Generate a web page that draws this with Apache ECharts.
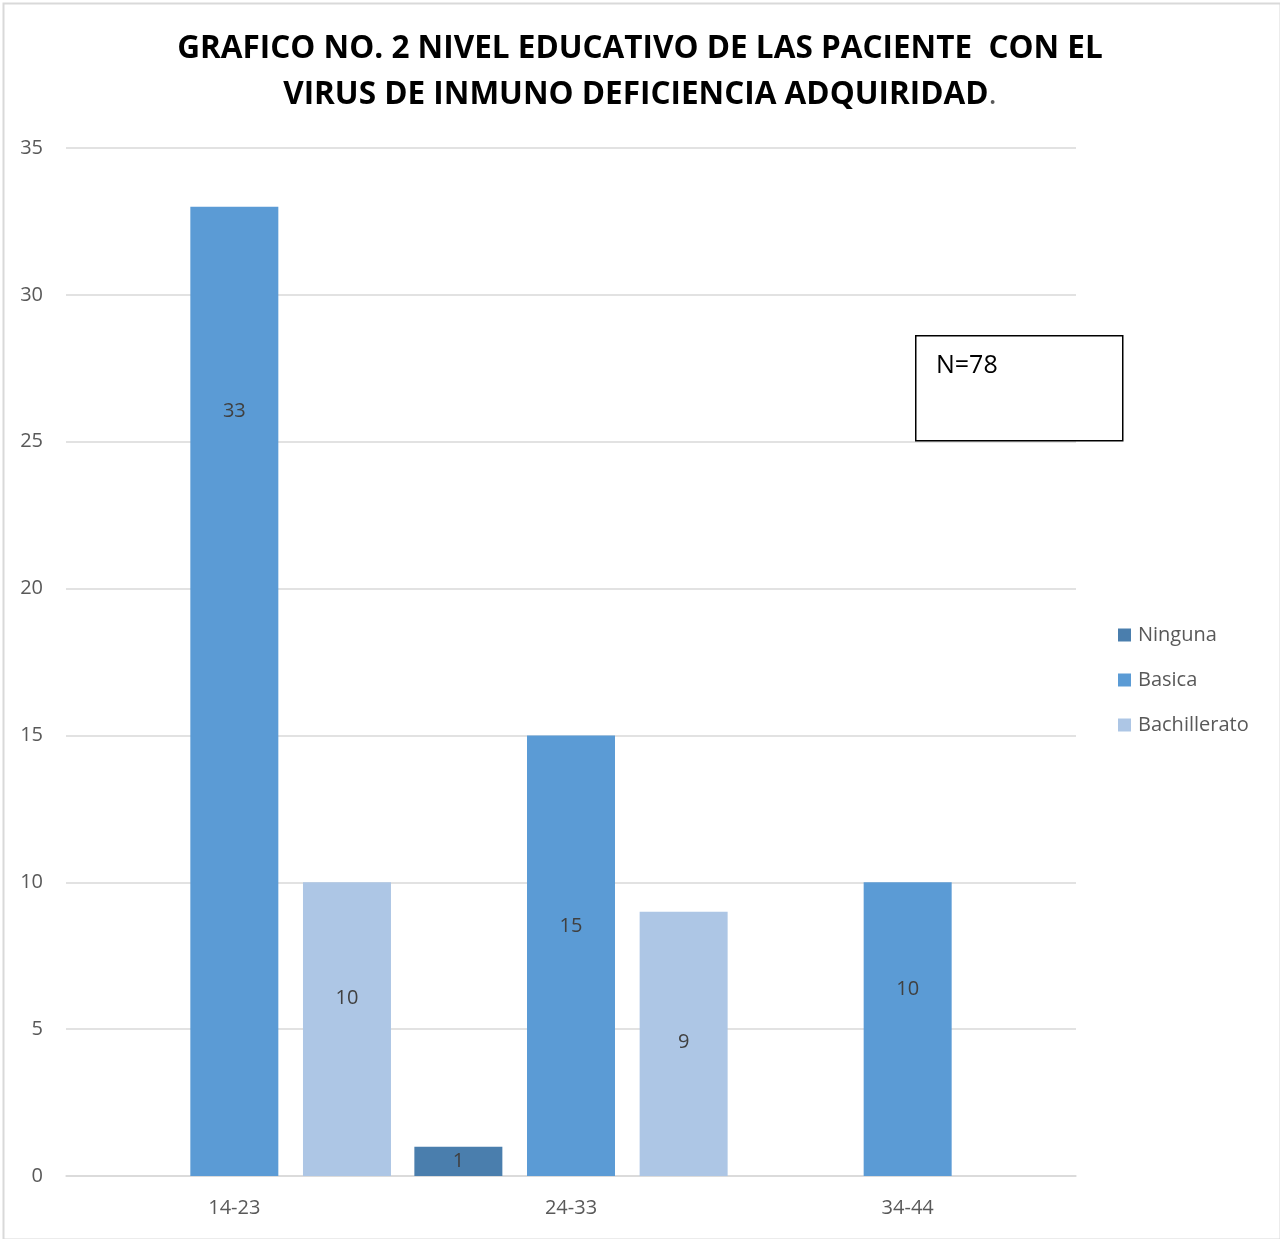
<!DOCTYPE html>
<html>
<head>
<meta charset="utf-8">
<script src="https://cdn.jsdelivr.net/npm/echarts@6/dist/echarts.min.js"></script>
<style>
  html, body { margin: 0; padding: 0; background: #fff; }
  #chart { width: 1280px; height: 1239px; box-sizing: border-box; }
</style>
</head>
<body>
<div id="chart"></div>
<script>
// datos del grafico
var categorias = ['14-23', '24-33', '34-44'];
var ninguna = [null, 1, null];
var basica = [33, 15, 10];
var bachillerato = [10, 9, null];
var nombres = ['Ninguna', 'Basica', 'Bachillerato'];

// desplazamiento vertical de cada etiqueta (movidas a mano en el original)
var despNinguna = [0, 0, 0];
var despBasica = [-280, -29, -40];
var despBachillerato = [-31, -2, 0];

var colores = ['#4A7EAD', '#5B9BD5', '#ADC6E5'];
var fuente = '"Open Sans", "Noto Sans", sans-serif';

var chart = echarts.init(document.getElementById('chart'));

function serie(nombre, datos, desp, color) {
  return {
    name: nombre,
    type: 'bar',
    data: datos.map(function (v, i) {
      return {value: v, label: {offset: [0, desp[i]]}};
    }),
    barWidth: 88,
    barGap: '28%',
    itemStyle: {color: color},
    label: {
      show: true,
      position: 'inside',
      color: '#404040',
      fontSize: 20,
      fontFamily: fuente
    }
  };
}

var option = {
  backgroundColor: '#fff',
  animation: false,
  color: colores,
  title: {
    text: 'GRAFICO NO. 2 NIVEL EDUCATIVO DE LAS PACIENTE  CON EL\nVIRUS DE INMUNO DEFICIENCIA ADQUIRIDAD{p|.}',
    left: 'center',
    top: 21,
    textStyle: {
      fontFamily: fuente,
      fontWeight: 'bold',
      fontSize: 31.5,
      lineHeight: 46,
      color: '#000',
      rich: {
        p: {fontWeight: 'normal', color: '#595959', fontSize: 31.5, fontFamily: fuente}
      }
    }
  },
  legend: {
    orient: 'vertical',
    left: 1113,
    top: 620,
    itemWidth: 13,
    itemHeight: 13,
    itemGap: 25,
    icon: 'rect',
    data: nombres,
    textStyle: {color: '#595959', fontSize: 20, fontFamily: fuente, padding: [0, 0, 0, 2]}
  },
  grid: {
    left: 66,
    right: 204,
    top: 148,
    bottom: 63
  },
  xAxis: {
    type: 'category',
    data: categorias,
    axisLine: {show: true, lineStyle: {color: '#d9d9d9', width: 1.5}},
    axisTick: {show: false},
    axisLabel: {color: '#595959', fontSize: 20, fontFamily: fuente, margin: 22}
  },
  yAxis: {
    type: 'value',
    min: 0,
    max: 35,
    interval: 5,
    axisLine: {show: false},
    axisTick: {show: false},
    splitLine: {lineStyle: {color: '#d9d9d9', width: 1.5}},
    axisLabel: {color: '#595959', fontSize: 20, fontFamily: fuente, margin: 23}
  },
  series: [
    serie(nombres[0], ninguna, despNinguna, colores[0]),
    serie(nombres[1], basica, despBasica, colores[1]),
    serie(nombres[2], bachillerato, despBachillerato, colores[2])
  ],
  graphic: [
    {
      type: 'rect',
      left: 1,
      top: 1,
      shape: {width: 1277, height: 1236},
      style: {fill: 'none', stroke: '#d9d9d9', lineWidth: 2},
      silent: true
    },
    {
      type: 'rect',
      left: 915,
      top: 335,
      z: 10,
      shape: {width: 207, height: 105},
      style: {fill: '#fff', stroke: '#000', lineWidth: 1.5}
    },
    {
      type: 'text',
      left: 936,
      top: 353,
      z: 11,
      style: {text: 'N=78', fill: '#000', fontSize: 25, fontFamily: fuente}
    }
  ]
};

chart.setOption(option);
</script>
</body>
</html>
